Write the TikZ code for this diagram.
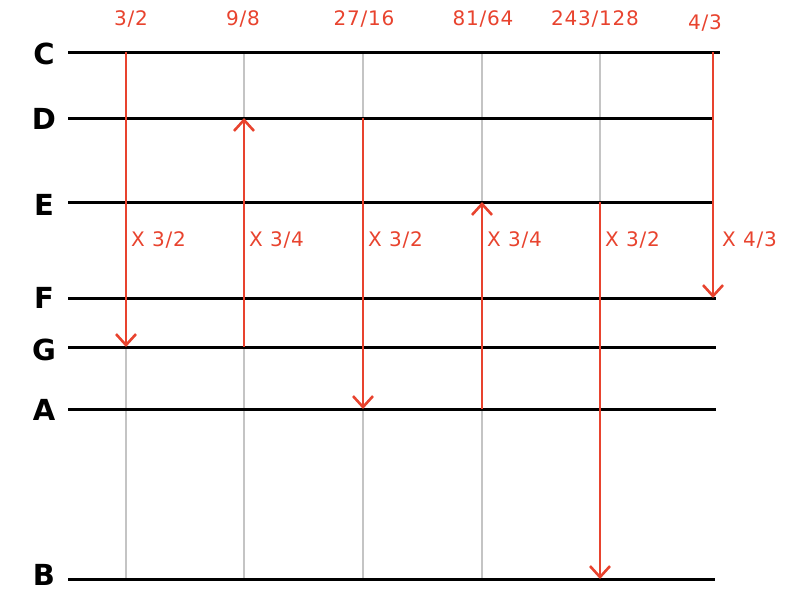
\documentclass[tikz,border=0pt]{standalone}
\usepackage{fontspec}
\setmainfont{DejaVu Sans}
\newfontfamily\sketchfont[LetterSpace=4]{DejaVu Sans}
\usetikzlibrary{arrows.meta}
\definecolor{exred}{HTML}{E8432E}
\definecolor{exgray}{HTML}{C4C4C4}
\begin{document}
\begin{tikzpicture}[x=1pt,y=-1pt,
  staff/.style={black,line width=3pt},
  guide/.style={exgray,line width=2.6pt},
  jump/.style={exred,line width=2.6pt,-{Straight Barb[length=11pt,width=20pt,line width=2.6pt]}},
  note/.style={inner sep=0pt,font=\bfseries\fontsize{29}{31}\selectfont},
  ratio/.style={exred,font=\sketchfont\fontsize{20}{22}\selectfont},
  factor/.style={exred,anchor=west,inner sep=0pt,font=\sketchfont\fontsize{20}{22}\selectfont}]
  \useasboundingbox (0,0) rectangle (800,595);
  % rows
  \foreach \n/\y/\e/\t in {C/52/720/54,D/118/713/119,E/202/714/205,F/298/716/298,G/347/716/350,A/409/716/410,B/579/715/575}{
    \coordinate(\n-w)at(68,\y);
    \coordinate(\n-e)at(\e,\y);
    \node[note](\n)at(44,\t){\n};
  }
  % columns
  \foreach \i/\x in {1/126,2/244,3/363,4/482,5/600,6/713}
    \coordinate(k\i)at(\x,52);
  \coordinate(mid)at(0,240);
  \foreach \i in {1,...,5}
    \draw[guide](k\i|-C-w)--(k\i|-B-w);
  \foreach \n in {C,D,E,F,G,A,B}
    \draw[staff](\n-w)--(\n-e);
  \draw[jump](k1|-C-w)--(k1|-G-w);
  \draw[jump](k2|-G-w)--(k2|-D-w);
  \draw[jump](k3|-D-w)--(k3|-A-w);
  \draw[jump](k4|-A-w)--(k4|-E-w);
  \draw[jump](k5|-E-w)--(k5|-B-w);
  \draw[jump](k6)--(k6|-F-w);
  % ratios
  \node[ratio](r1)at(131,19){3/2};
  \node[ratio](r2)at(243,19){9/8};
  \node[ratio](r3)at(364,19){27/16};
  \node[ratio](r4)at(483,19){81/64};
  \node[ratio](r5)at(595,19){243/128};
  \node[ratio](r6)at(705,23){4/3};
  % factors
  \node[factor](f1)at([xshift=5pt]k1|-mid){X 3/2};
  \node[factor](f2)at([xshift=5pt]k2|-mid){X 3/4};
  \node[factor](f3)at([xshift=5pt]k3|-mid){X 3/2};
  \node[factor](f4)at([xshift=5pt]k4|-mid){X 3/4};
  \node[factor](f5)at([xshift=5pt]k5|-mid){X 3/2};
  \node[factor](f6)at([xshift=9pt]k6|-mid){X 4/3};
\end{tikzpicture}
\end{document}
